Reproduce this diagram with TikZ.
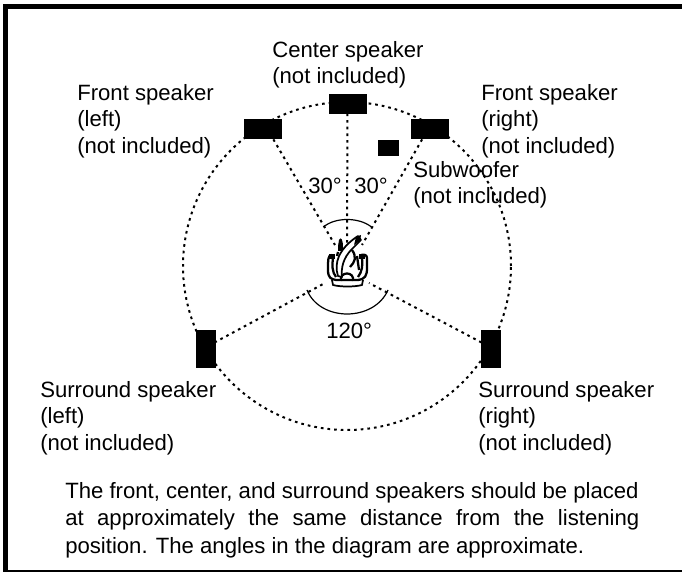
\documentclass[tikz,border=0pt]{standalone}
\usepackage{fontspec}
\setmainfont{Liberation Sans}
\usetikzlibrary{calc}
\tikzset{
  x=0.75pt,y=-0.75pt,
  spk/.style={fill=black,draw=black,inner sep=0pt,line width=0.3pt},
  lbl/.style={align=left,anchor=north west,inner sep=0pt,font=\fontsize{16.6}{20}\selectfont,text=black},
  dot/.style={line width=1.5pt,dash pattern=on 2pt off 3pt},
  arcl/.style={line width=0.9pt},
  fig/.style={line width=1.7pt,line join=round},
}
\begin{document}
\begin{tikzpicture}
\useasboundingbox (0,0) rectangle (682,573);
\fill[white] (0,0) rectangle (682,573);
\fill[black] (3,4) rectangle (682,9);
\fill[black] (3,4) rectangle (8,571);
\fill[black] (3,570) rectangle (682,572);
% listener position
\coordinate (c) at (347,266);
% circle
\draw[dot] (c) circle[radius=123pt];
% speakers
\node[spk,minimum width=28pt,minimum height=14.5pt] (C) at (347.5,103.5) {};
\node[spk,minimum width=28pt,minimum height=14.5pt] (FL) at (262.5,128.5) {};
\node[spk,minimum width=28pt,minimum height=14.5pt] (FR) at (430,128.5) {};
\node[spk,minimum width=15pt,minimum height=11pt] (SW) at (388,147.5) {};
\node[spk,minimum width=14.5pt,minimum height=28pt] (SL) at (205.5,348.5) {};
\node[spk,minimum width=14.5pt,minimum height=28pt] (SR) at (490.5,348.5) {};
% radial lines
\coordinate (l1) at (347,245);
\coordinate (l2) at (335,245);
\coordinate (l3) at (362,245);
\coordinate (l4) at (325,283);
\coordinate (l5) at (369,283);
\draw[dot] (C) -- (l1);
\draw[dot] (FL.south east) ++(-8,1) -- (l2);
\draw[dot] (FR.south west) ++(11,1) -- (l3);
\draw[dot] (SL) ++(9,-6) -- (l4);
\draw[dot] (SR) ++(-9,-6) -- (l5);
% angle arcs
\draw[arcl] (323.5,227) .. controls (335,217) and (359,217) .. (371.5,227);
\draw[arcl] (307,290) .. controls (320,322) and (374,322) .. (388,290);
% listener
\begin{scope}[fig]
 \draw (332,255) .. controls (328,255) and (328,259) .. (328,270) .. controls (328,278) and (331,279) .. (336,280) -- (358,280) .. controls (365,279) and (367,276) .. (367,268) -- (367,258) .. controls (367,255) and (364,254) .. (361,255);
 \draw (333,258) .. controls (332,265) and (332,272) .. (336,277);
 \draw (362,258) .. controls (363,265) and (362,272) .. (358,277);
 \draw[line width=1.3pt] (332,280) -- (333,285) .. controls (340,287) and (355,287) .. (362,285) -- (363,280);
 \draw (341,281) .. controls (339,271) and (355,271) .. (353,281);
 \fill (339,240) .. controls (341,236) and (343,240) .. (343,247) -- (344,251) -- (338,251) -- (338,246) -- cycle;
 \draw (338,252) -- (337,256);
 \draw[fill=white,line width=1.3pt] (358,236) .. controls (352,240) and (344,246) .. (339,256) .. controls (336,263) and (336,270) .. (338,276) -- (342,277) .. controls (341,268) and (343,258) .. (352,249) -- (361,240) -- cycle;
 \fill (356,237) -- (361,235) -- (360,241) -- (354,245) -- cycle;
 \draw (352,250) .. controls (357,257) and (355,262) .. (350,267);
 \draw (357,256) -- (359,270);
 \fill (359,254) rectangle (365,259);
 \fill (329,254) rectangle (335,259);
\end{scope}
% labels
\node[lbl] (t1) at (272,41) {Center speaker\\(not included)};
\node[lbl] (t2) at (77,84) {Front speaker\\(left)\\(not included)};
\node[lbl] (t3) at (481,84) {Front speaker\\(right)\\(not included)};
\node[lbl] (t4) at (413,161) {Subwoofer\\(not included)};
\node[lbl] (t5) at (40,381) {Surround speaker\\(left)\\(not included)};
\node[lbl] (t6) at (478,381) {Surround speaker\\(right)\\(not included)};
\node[lbl] (a1) at (308,178) {30°};
\node[lbl] (a2) at (354,178) {30°};
\node[lbl] (a3) at (326,323) {120°};
\node[lbl,font=\fontsize{16.6}{20.6}\selectfont] (p) at (65,482) {The front, center, and surround speakers should be placed\\
\makebox[430.5pt][s]{at approximately the same distance from the listening}\\
position. The angles in the diagram are approximate.};
\end{tikzpicture}
\end{document}
